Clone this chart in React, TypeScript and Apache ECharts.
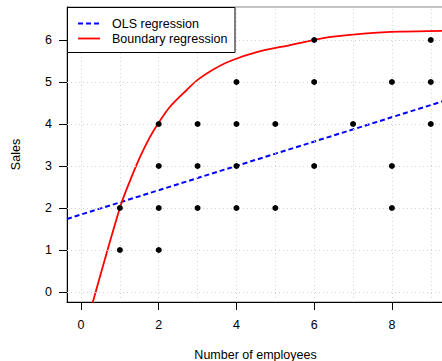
import React, { useEffect, useRef } from 'react';
import * as echarts from 'echarts';

// Scatter data: number of employees vs sales
const employees = [1, 1, 2, 2, 2, 2, 3, 3, 3, 4, 4, 4, 4, 5, 5, 6, 6, 6, 7, 8, 8, 8, 9, 9, 9];
const sales = [1, 2, 1, 2, 3, 4, 2, 3, 4, 2, 3, 4, 5, 2, 4, 3, 5, 6, 4, 2, 3, 5, 4, 5, 6];

// OLS regression line
const olsX = [-0.36, 9.34];
const olsY = [1.74, 4.55];

// Boundary regression curve
const boundaryX = [0.3, 1.01, 1.27, 1.52, 1.78, 1.99, 2.29, 2.72, 3.0, 3.35, 3.84, 4.52, 5.38, 5.98, 6.49, 7.35, 8.21, 9.34];
const boundaryY = [-0.255, 2.03, 2.67, 3.22, 3.7, 4.02, 4.41, 4.81, 5.05, 5.27, 5.5, 5.71, 5.88, 6.0, 6.08, 6.16, 6.2, 6.22];

const xTicks = [0, 2, 4, 6, 8];
const yTicks = [0, 1, 2, 3, 4, 5, 6];
const xGridValues = [0, 1, 2, 3, 4, 5, 6, 7, 8, 9];
const yGridValues = [0, 1, 2, 3, 4, 5, 6];

const legendLabels = ['OLS regression', 'Boundary regression'];
const xName = 'Number of employees';
const yName = 'Sales';

const FONT = '"Liberation Sans", Arial, Helvetica, sans-serif';

export default function App() {
  const ref = useRef<HTMLDivElement>(null);

  useEffect(() => {
    if (!ref.current) return;
    const chart = echarts.init(ref.current, undefined, { renderer: 'svg' });

    const gridStyle = { color: '#d3d3d3', type: [1, 3], width: 1 };

    const option: any = {
      animation: false,
      backgroundColor: '#fff',
      grid: {
        left: 67,
        top: 7,
        right: -2,
        bottom: 59,
        containLabel: false,
        outerBoundsMode: 'none',
        show: true,
        borderColor: '#888',
        borderWidth: 1,
        backgroundColor: 'transparent',
      },
      xAxis: {
        type: 'value',
        min: -0.36,
        max: 9.34,
        name: xName,
        nameLocation: 'middle',
        nameGap: 46,
        nameTextStyle: { color: '#000', fontSize: 12.5, fontFamily: FONT },
        axisLine: { show: true, onZero: false, lineStyle: { color: '#000', width: 1 } },
        axisTick: { show: true, inside: false, length: 8, customValues: xTicks, lineStyle: { color: '#000' } },
        axisLabel: { customValues: xTicks, margin: 16, color: '#000', fontSize: 12.5, fontFamily: FONT },
        splitLine: { show: false },
      },
      yAxis: {
        type: 'value',
        min: -0.238,
        max: 6.786,
        name: yName,
        nameLocation: 'middle',
        nameGap: 45,
        nameTextStyle: { color: '#000', fontSize: 12.5, fontFamily: FONT },
        axisLine: { show: true, onZero: false, lineStyle: { color: '#000', width: 1 } },
        axisTick: { show: true, inside: false, length: 8, customValues: yTicks, lineStyle: { color: '#000' } },
        axisLabel: { customValues: yTicks, margin: 15, color: '#000', fontSize: 12.5, fontFamily: FONT },
        splitLine: { show: false },
      },
      series: [
        {
          type: 'line',
          data: [],
          z: 1,
          silent: true,
          markLine: {
            silent: true,
            symbol: ['none', 'none'],
            label: { show: false },
            lineStyle: gridStyle,
            animation: false,
            data: [
              ...xGridValues.map((v) => ({ xAxis: v })),
              ...yGridValues.map((v) => ({ yAxis: v })),
            ],
          },
        },
        {
          type: 'line',
          name: legendLabels[0],
          data: olsX.map((x, i) => [x, olsY[i]]),
          showSymbol: false,
          symbol: 'none',
          z: 3,
          lineStyle: { color: '#0000ff', width: 2, type: [5, 3] },
          clip: true,
        },
        {
          type: 'line',
          name: legendLabels[1],
          data: boundaryX.map((x, i) => [x, boundaryY[i]]),
          smooth: 0.3,
          showSymbol: false,
          symbol: 'none',
          z: 4,
          lineStyle: { color: '#ff0000', width: 1.8 },
          clip: true,
        },
        {
          type: 'scatter',
          data: employees.map((x, i) => [x, sales[i]]),
          symbol: 'circle',
          symbolSize: 6,
          z: 5,
          itemStyle: { color: '#000', opacity: 1 },
        },
      ],
      graphic: [
        {
          type: 'group',
          z: 100,
          children: [
            {
              type: 'rect',
              shape: { x: 67.5, y: 7.5, width: 167.5, height: 45 },
              style: { fill: '#fff', stroke: '#000', lineWidth: 1 },
              z: 100,
            },
            {
              type: 'line',
              shape: { x1: 78, y1: 23.5, x2: 100, y2: 23.5 },
              style: { stroke: '#0000ff', lineWidth: 2, lineDash: [5, 3] },
              z: 101,
            },
            {
              type: 'line',
              shape: { x1: 78, y1: 38.5, x2: 100, y2: 38.5 },
              style: { stroke: '#ff0000', lineWidth: 1.8 },
              z: 101,
            },
            {
              type: 'text',
              x: 112,
              y: 23.5,
              style: { text: legendLabels[0], fill: '#000', font: `12.5px ${FONT}`, verticalAlign: 'middle', align: 'left' },
              z: 101,
            },
            {
              type: 'text',
              x: 112,
              y: 38.5,
              style: { text: legendLabels[1], fill: '#000', font: `12.5px ${FONT}`, verticalAlign: 'middle', align: 'left' },
              z: 101,
            },
          ],
        },
      ],
    };

    chart.setOption(option);
    return () => chart.dispose();
  }, []);

  return (
    <div
      ref={ref}
      style={{ position: 'fixed', left: 0, top: 0, width: 442, height: 361, background: '#fff' }}
    />
  );
}
